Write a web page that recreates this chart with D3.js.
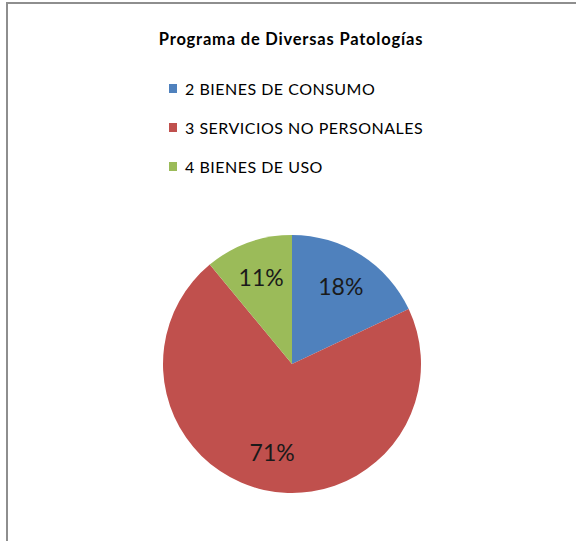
<!DOCTYPE html>
<html>
<head>
<meta charset="utf-8">
<script src="https://cdn.jsdelivr.net/npm/d3@7"></script>
<style>
  body { margin: 0; background: #fff; }
  svg { display: block; }
</style>
</head>
<body>
<svg id="chart"></svg>
<script>
const width = 576;
const height = 541;

const categories = ['2 BIENES DE CONSUMO', '3 SERVICIOS NO PERSONALES', '4 BIENES DE USO'];
const values = [18, 71, 11];
const colors = ['#4f81bd', '#c0504d', '#9bbb59'];
const title = 'Programa de Diversas Patologías';

const font = 'Lato, "Open Sans", sans-serif';

const svg = d3.select('#chart')
  .attr('width', width)
  .attr('height', height);

// chart area border (only top and left visible)
svg.append('path')
  .attr('d', `M7,${height} V3 H${width}`)
  .attr('fill', 'none')
  .attr('stroke', '#8e8e8e')
  .attr('stroke-width', 2);

svg.append('text')
  .attr('x', 291)
  .attr('y', 45)
  .attr('text-anchor', 'middle')
  .attr('font-family', font)
  .attr('font-weight', 'bold')
  .attr('font-size', 16.5)
  .attr('letter-spacing', 0.8)
  .attr('fill', '#000')
  .text(title);

// legend
const legend = svg.append('g')
  .attr('transform', 'translate(169, 89)');

const rows = legend.selectAll('g')
  .data(categories)
  .join('g')
  .attr('transform', (d, i) => `translate(0, ${i * 39})`);

rows.append('rect')
  .attr('x', 0)
  .attr('y', -5)
  .attr('width', 8)
  .attr('height', 9)
  .attr('fill', (d, i) => colors[i]);

rows.append('text')
  .attr('x', 16)
  .attr('y', 6)
  .attr('font-family', font)
  .attr('font-size', 16)
  .attr('letter-spacing', 0.5)
  .attr('fill', '#000')
  .text(d => d);

// pie
const cx = 292, cy = 364, radius = 129;

const pie = d3.pie().sort(null).value(d => d);
const arcs = pie(values);

const arc = d3.arc().innerRadius(0).outerRadius(radius);
const labelArc = d3.arc().innerRadius(91).outerRadius(91);

const g = svg.append('g')
  .attr('transform', `translate(${cx}, ${cy})`);

g.selectAll('path')
  .data(arcs)
  .join('path')
  .attr('d', arc)
  .attr('fill', (d, i) => colors[i]);

const total = d3.sum(values);
g.selectAll('text')
  .data(arcs)
  .join('text')
  .attr('transform', d => `translate(${labelArc.centroid(d)})`)
  .attr('text-anchor', 'middle')
  .attr('dy', '0.35em')
  .attr('font-family', font)
  .attr('font-size', 23)
  .attr('fill', '#1a1a1a')
  .text(d => `${Math.round(d.value / total * 100)}%`);
</script>
</body>
</html>
